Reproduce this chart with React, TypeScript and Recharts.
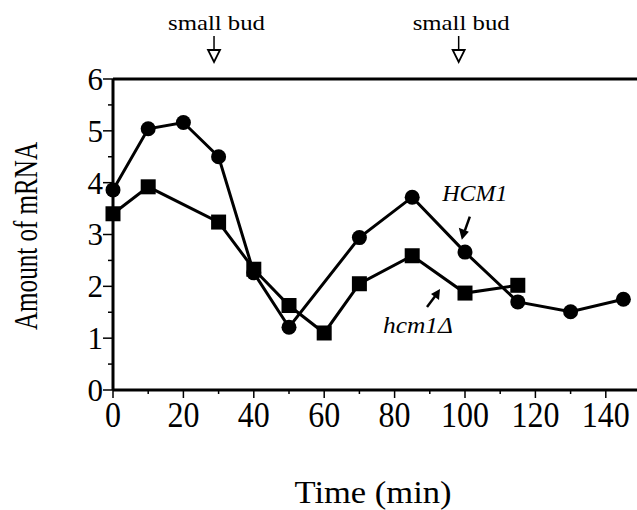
import React from "react";
import { LineChart, Line, XAxis, YAxis, ReferenceLine, ReferenceDot } from "recharts";

const TIME_HCM1 = [0, 10, 20, 30, 40, 50, 70, 85, 100, 115, 130, 145];
const AMOUNT_HCM1 = [3.86, 5.04, 5.16, 4.5, 2.26, 1.21, 2.94, 3.72, 2.66, 1.7, 1.51, 1.75];

const TIME_DELTA = [0, 10, 30, 40, 50, 60, 70, 85, 100, 115];
const AMOUNT_DELTA = [3.4, 3.92, 3.24, 2.33, 1.63, 1.1, 2.05, 2.59, 1.87, 2.02];

const X_TICKS = [0, 10, 20, 30, 40, 50, 60, 70, 80, 90, 100, 110, 120, 130, 140];
const Y_TICKS = [0, 0.5, 1, 1.5, 2, 2.5, 3, 3.5, 4, 4.5, 5, 5.5, 6];

const BUD_TIMES = [28.7, 98.2];
const BUD_LABEL = "small bud";

const FONT = "Liberation Serif";

const hcm1Data = TIME_HCM1.map((t, i) => ({ t, v: AMOUNT_HCM1[i] }));
const deltaData = TIME_DELTA.map((t, i) => ({ t, v: AMOUNT_DELTA[i] }));

function XTick({ x, y, payload }: any) {
  const v = payload.value;
  const major = v % 20 === 0;
  const label = String(v);
  return (
    <g>
      <line x1={x} x2={x} y1={y} y2={y + (major ? 8 : 4)} stroke="#000" strokeWidth={1.5} />
      {major && (
        <text
          x={x}
          y={y + 37}
          textAnchor="middle"
          fontFamily={FONT}
          fontSize={36}
          textLength={label.length * 16}
          lengthAdjust="spacingAndGlyphs"
          fill="#000"
        >
          {label}
        </text>
      )}
    </g>
  );
}

function YTick({ x, y, payload }: any) {
  const v = payload.value;
  const major = Number.isInteger(v);
  return (
    <g>
      <line x1={x - (major ? 10 : 5)} x2={x} y1={y} y2={y} stroke="#000" strokeWidth={1.5} />
      {major && (
        <text x={x - 10} y={y} dy="0.35em" textAnchor="end" fontFamily={FONT} fontSize={31} fill="#000">
          {v}
        </text>
      )}
    </g>
  );
}

function CircleDot({ cx, cy }: any) {
  return <circle cx={cx} cy={cy} r={7.5} fill="#000" />;
}

function SquareDot({ cx, cy }: any) {
  return <rect x={cx - 7.5} y={cy - 7.5} width={15} height={15} fill="#000" />;
}

function BudMarker({ cx, cy }: any) {
  return (
    <g>
      <text
        x={cx + 2.5}
        y={cy - 49}
        textAnchor="middle"
        fontFamily={FONT}
        fontSize={22}
        textLength={97}
        lengthAdjust="spacingAndGlyphs"
        fill="#000"
      >
        {BUD_LABEL}
      </text>
      <line x1={cx} x2={cx} y1={cy - 43} y2={cy - 29} stroke="#000" strokeWidth={1.5} />
      <path
        d={`M${cx - 6},${cy - 29} L${cx + 6},${cy - 29} L${cx},${cy - 17} Z`}
        fill="#fff"
        stroke="#000"
        strokeWidth={1.8}
      />
    </g>
  );
}

function HcmLabel({ cx, cy }: any) {
  // cx, cy is the arrow tip
  return (
    <g>
      <text x={cx + 13} y={cy - 47} dy="0.35em" textAnchor="middle" fontFamily={FONT} fontStyle="italic" fontSize={24} fill="#000">
        HCM1
      </text>
      <line x1={cx + 8} x2={cx + 3} y1={cy - 23} y2={cy - 9} stroke="#000" strokeWidth={2.5} />
      <path d={`M${cx},${cy} L${cx - 3},${cy - 12} L${cx + 7},${cy - 8} Z`} fill="#000" />
    </g>
  );
}

function DeltaLabel({ cx, cy }: any) {
  return (
    <g>
      <text
        x={cx - 22}
        y={cy + 36}
        dy="0.35em"
        textAnchor="middle"
        fontFamily={FONT}
        fontStyle="italic"
        fontSize={24}
        textLength={70}
        lengthAdjust="spacingAndGlyphs"
        fill="#000"
      >
        hcm1Δ
      </text>
      <line x1={cx - 13} x2={cx - 4} y1={cy + 18} y2={cy + 6} stroke="#000" strokeWidth={2.5} />
      <path d={`M${cx},${cy} L${cx - 1},${cy + 11} L${cx - 9},${cy + 5} Z`} fill="#000" />
    </g>
  );
}

export default function App() {
  return (
    <div style={{ position: "absolute", left: 0, top: 0, width: 637, height: 510, overflow: "hidden", background: "#fff" }}>
      <LineChart width={645} height={510} margin={{ top: 79, right: 4, bottom: 0, left: 0 }}>
        <XAxis
          type="number"
          dataKey="t"
          domain={[0, 150]}
          ticks={X_TICKS}
          interval={0}
          tickLine={false}
          tickSize={0}
          tickMargin={0}
          tick={<XTick />}
          axisLine={{ stroke: "#000", strokeWidth: 3 }}
          height={120}
          allowDuplicatedCategory={false}
          label={{
            content: () => (
              <text
                x={373}
                y={503}
                textAnchor="middle"
                fontFamily={FONT}
                fontSize={32}
                textLength={157}
                lengthAdjust="spacingAndGlyphs"
                fill="#000"
              >
                Time (min)
              </text>
            ),
          }}
        />
        <YAxis
          type="number"
          domain={[0, 6]}
          ticks={Y_TICKS}
          interval={0}
          tickLine={false}
          tickSize={0}
          tickMargin={0}
          tick={<YTick />}
          axisLine={{ stroke: "#000", strokeWidth: 3 }}
          width={113}
          label={{
            content: () => (
              <text
                x={37}
                y={236}
                transform="rotate(-90 37 236)"
                textAnchor="middle"
                fontFamily={FONT}
                fontSize={34}
                textLength={188}
                lengthAdjust="spacingAndGlyphs"
                fill="#000"
              >
                Amount of mRNA
              </text>
            ),
          }}
        />
        <ReferenceLine y={6} stroke="#000" strokeWidth={3} ifOverflow="visible" />
        {BUD_TIMES.map((t) => (
          <ReferenceDot key={t} x={t} y={6} ifOverflow="visible" shape={<BudMarker />} />
        ))}
        <Line
          data={hcm1Data}
          dataKey="v"
          type="linear"
          stroke="#000"
          strokeWidth={3}
          dot={<CircleDot />}
          isAnimationActive={false}
        />
        <Line
          data={deltaData}
          dataKey="v"
          type="linear"
          stroke="#000"
          strokeWidth={3}
          dot={<SquareDot />}
          isAnimationActive={false}
        />
        <ReferenceDot x={99.1} y={2.9} ifOverflow="visible" shape={<HcmLabel />} />
        <ReferenceDot x={92.9} y={1.95} ifOverflow="visible" shape={<DeltaLabel />} />
      </LineChart>
    </div>
  );
}
